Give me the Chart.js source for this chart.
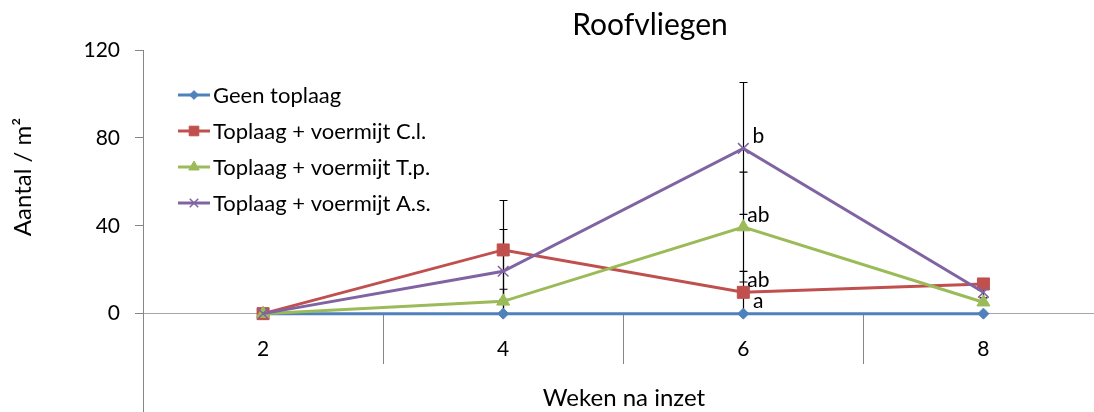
<!DOCTYPE html>
<html>
<head>
<meta charset="utf-8">
<script src="https://cdn.jsdelivr.net/npm/chart.js@4.4.1/dist/chart.umd.min.js"></script>
<style>
  html { overflow: hidden; }
  body { margin: 0; padding: 0; background: #fff; width: 1113px; }
  /* the plot runs a little past the right and bottom edges, as in the original */
  #wrap { width: 1113px; height: 422px; }
</style>
</head>
<body>
<div id="wrap"><canvas id="chart"></canvas></div>
<script>
  const FONT = "Lato";
  const weeks = ["2", "4", "6", "8"];
  const yTicks = [0, 40, 80, 120];
  const seriesNames = [
    "Geen toplaag",
    "Toplaag + voermijt C.l.",
    "Toplaag + voermijt T.p.",
    "Toplaag + voermijt A.s.",
  ];
  const geen = [0, 0, 0, 0];
  const cl = [0, 29, 9.7, 13.5];
  const tp = [0, 5.6, 39.4, 5.2];
  const as = [0, 19.3, 75.2, 9.7];
  const geenErr = [0, 0, 0, 0];
  const clErr = [0, 22.5, 9.5, 0];
  const tpErr = [0, 5.5, 25, 0];
  const asErr = [0, 19, 30, 2.5];
  const geenLetters = ["", "", "a", ""];
  const clLetters = ["", "", "ab", ""];
  const tpLetters = ["", "", "ab", ""];
  const asLetters = ["", "", "b", ""];

  const colors = ["#4F81BD", "#C0504D", "#9BBB59", "#8064A2"];
  const styles = [
    { pointStyle: "rectRot", radius: 5.5, bw: 1 },
    { pointStyle: "rect", radius: 8.5, bw: 1 },
    { pointStyle: "triangle", radius: 7.5, bw: 1 },
    { pointStyle: "crossRot", radius: 7.5, bw: 1.5 },
  ];
  const values = [geen, cl, tp, as];
  const errors = [geenErr, clErr, tpErr, asErr];
  const letters = [geenLetters, clLetters, tpLetters, asLetters];
  const AXIS = "#868686";

  const datasets = values.map(function (d, i) {
    return {
      label: seriesNames[i],
      data: d,
      borderColor: colors[i],
      backgroundColor: colors[i],
      borderWidth: 3,
      pointStyle: styles[i].pointStyle,
      pointRadius: styles[i].radius,
      pointBorderWidth: styles[i].bw,
      pointBorderColor: colors[i],
      pointBackgroundColor: colors[i],
      tension: 0,
      order: 4 - i,
      errors: errors[i],
      letters: letters[i],
    };
  });

  // error bars behind the lines
  const errorBars = {
    id: "errorBars",
    beforeDatasetsDraw(chart) {
      const ctx = chart.ctx, y = chart.scales.y, x = chart.scales.x;
      ctx.save();
      ctx.strokeStyle = "#000";
      ctx.lineWidth = 1.2;
      chart.data.datasets.forEach(function (ds) {
        ds.data.forEach(function (v, i) {
          const e = ds.errors[i];
          if (!e) return;
          const px = Math.round(x.getPixelForValue(i)) + 0.5;
          const top = y.getPixelForValue(v + e), bot = y.getPixelForValue(v - e);
          ctx.beginPath();
          ctx.moveTo(px, top); ctx.lineTo(px, bot);
          ctx.moveTo(px - 4, top); ctx.lineTo(px + 4, top);
          ctx.moveTo(px - 4, bot); ctx.lineTo(px + 4, bot);
          ctx.stroke();
        });
      });
      ctx.restore();
    },
  };

  // letters, title, axis titles and legend inside the plot
  const extras = {
    id: "extras",
    afterDraw(chart) {
      const ctx = chart.ctx, y = chart.scales.y, x = chart.scales.x;
      ctx.save();
      ctx.fillStyle = "#000";
      ctx.textBaseline = "middle";

      ctx.font = "21px " + FONT;
      ctx.textAlign = "center";
      chart.data.datasets.forEach(function (ds) {
        ds.data.forEach(function (v, i) {
          if (!ds.letters[i]) return;
          ctx.fillText(ds.letters[i], x.getPixelForValue(i) + 15, y.getPixelForValue(v) - 12);
        });
      });

      ctx.font = "30px " + FONT;
      ctx.fillText("Roofvliegen", 650, 25);
      ctx.font = "24px " + FONT;
      ctx.fillText("Weken na inzet", 624, 398);
      ctx.save();
      ctx.translate(23, 177);
      ctx.rotate(-Math.PI / 2);
      ctx.fillText("Aantal / m²", 0, 0);
      ctx.restore();

      ctx.font = "22px " + FONT;
      ctx.textAlign = "left";
      chart.data.datasets.forEach(function (ds, i) {
        const ly = 95 + i * 36;
        ctx.strokeStyle = ds.borderColor;
        ctx.lineWidth = 3;
        ctx.beginPath();
        ctx.moveTo(178, ly); ctx.lineTo(210, ly);
        ctx.stroke();
        ctx.fillStyle = ds.backgroundColor;
        ctx.strokeStyle = ds.borderColor;
        ctx.lineWidth = ds.pointBorderWidth;
        Chart.helpers.drawPoint(ctx, {
          pointStyle: ds.pointStyle, radius: ds.pointRadius * 0.8, rotation: 0, borderWidth: ds.pointBorderWidth,
        }, 194, ly);
        ctx.fillStyle = "#000";
        ctx.fillText(ds.label, 213, ly + 1);
      });
      ctx.restore();
    },
  };

  new Chart(document.getElementById("chart"), {
    type: "line",
    data: { labels: weeks, datasets: datasets },
    options: {
      responsive: true,
      maintainAspectRatio: false,
      animation: false,
      layout: { padding: { top: 50, left: 0, right: 0, bottom: 0 } },
      plugins: { legend: { display: false }, tooltip: { enabled: false } },
      scales: {
        x: {
          type: "category",
          offset: true,
          position: { y: 0 },
          afterFit: function (scale) {
            scale.paddingLeft = 0;
            scale.paddingRight = 0;
          },
          grid: { offset: true, drawOnChartArea: false, tickLength: 50, color: AXIS, lineWidth: 1 },
          border: { color: "#A6A6A6", width: 1 },
          ticks: { color: "#000", font: { family: FONT, size: 21 }, padding: -27, maxRotation: 0 },
        },
        y: {
          min: -45,
          max: 120,
          afterBuildTicks: function (scale) {
            scale.ticks = yTicks.map(function (v) { return { value: v }; });
          },
          afterFit: function (scale) {
            scale.width = 143;
            scale.paddingTop = 0;
            scale.paddingBottom = 0;
          },
          grid: { drawOnChartArea: false, tickLength: 8, color: AXIS },
          border: { color: AXIS, width: 1 },
          ticks: { color: "#000", font: { family: FONT, size: 21 }, padding: 15 },
        },
      },
    },
    plugins: [errorBars, extras],
  });
</script>
</body>
</html>
